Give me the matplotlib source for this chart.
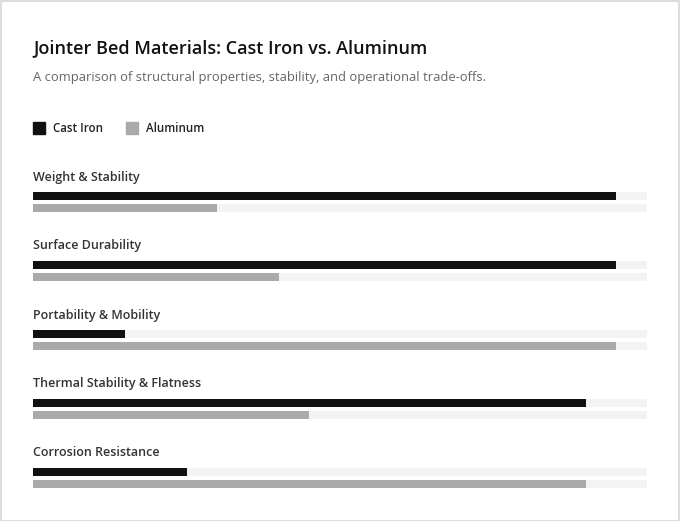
import matplotlib.pyplot as plt
from matplotlib.patches import Rectangle

categories = ['Weight & Stability', 'Surface Durability', 'Portability & Mobility',
              'Thermal Stability & Flatness', 'Corrosion Resistance']
cast_iron = [95, 95, 15, 90, 25]
aluminum = [30, 40, 95, 45, 90]
series_names = ['Cast Iron', 'Aluminum']

dark = '#111111'
light = '#aaaaaa'
track = '#f3f3f3'

W, H = 680, 521
fig = plt.figure(figsize=(W / 100, H / 100), dpi=100)
fig.patch.set_facecolor('white')
fig.patches.append(Rectangle((0.5 / W, 0.5 / H), 1 - 1.5 / W, 1 - 1.5 / H,
                             transform=fig.transFigure, fill=False,
                             edgecolor='#dddddd', linewidth=1.5))

font = ['Open Sans', 'DejaVu Sans']
fig.text(33 / W, 1 - 48 / H, 'Jointer Bed Materials: Cast Iron vs. Aluminum',
         fontsize=13, color='#111111', family=font, weight='semibold', va='center')
fig.text(33 / W, 1 - 78 / H,
         'A comparison of structural properties, stability, and operational trade-offs.',
         fontsize=9.4, color='#666666', family=font, va='center')

# legend
ax_leg = fig.add_axes([0, 0, 1, 1])
ax_leg.set_xlim(0, W)
ax_leg.set_ylim(H, 0)
ax_leg.axis('off')
for (x0, name, c) in [(33, series_names[0], dark), (126, series_names[1], light)]:
    ax_leg.add_patch(Rectangle((x0, 122), 12, 12, color=c))
    ax_leg.text(x0 + 20, 128, name, fontsize=8.3, color='#222222', family=font,
                weight='semibold', va='center')

# bars: x in 0..100, y in pixels
ax = fig.add_axes([33 / W, 0, 614 / W, 1])
ax.set_xlim(0, 100)
ax.set_ylim(H, 0)
ax.axis('off')

row0, step = 177, 69
for i, cat in enumerate(categories):
    y = row0 + i * step
    ax.text(0, y, cat, fontsize=9.0, color='#333333', family=font,
            weight='semibold', va='center')
    ax.barh([y + 19, y + 31], [100, 100], height=8, color=track)
    ax.barh(y + 19, cast_iron[i], height=8, color=dark)
    ax.barh(y + 31, aluminum[i], height=8, color=light)

fig.savefig('out.png', dpi=100)
